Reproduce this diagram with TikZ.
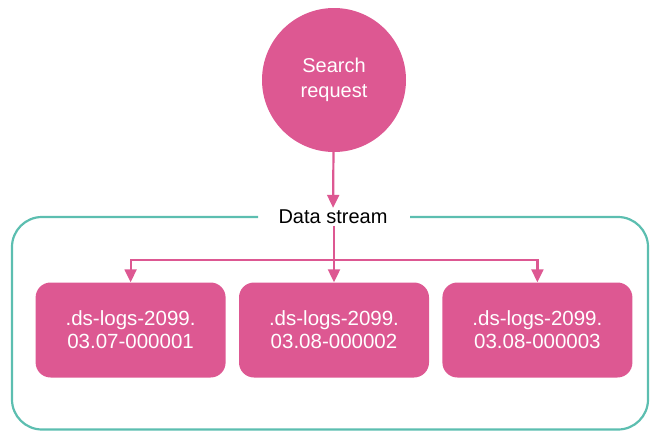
\documentclass[tikz,border=0pt]{standalone}
\usepackage{fontspec}
\setmainfont{Liberation Sans}
\usetikzlibrary{
        arrows.meta,
        positioning
    }
\definecolor{dspink}{RGB}{221,88,146}
\definecolor{dsteal}{RGB}{92,190,176}
\tikzset{>={Triangle[width=12pt,length=13pt]}}
\tikzset{
    req/.style={circle,fill=dspink,draw=none,minimum size=144pt,
        text=white,align=center,font=\fontsize{20}{25}\selectfont},
    backing/.style={rounded corners=15pt,fill=dspink,draw=none,
        minimum width=190pt,minimum height=95pt,inner sep=0pt,
        text=white,align=center,font=\fontsize{20.5}{23}\selectfont},
    link/.style={draw=dspink,line width=2.2pt},
    flow/.style={link,->},
    frame/.style={draw=dsteal,line width=2.2pt,rounded corners=30pt}
}

\begin{document}
\begin{tikzpicture}[x=1pt,y=-1pt]
    \useasboundingbox (0,0) rectangle (650,431);
    \node[req] (search) at (334,80) {Search\\request};
    \node[font=\fontsize{20}{24}\selectfont,inner sep=2pt] (stream) at (333,217) {Data stream};
    \node[backing] (idx2) at (334,330) {.ds-logs-2099.\\03.08-000002};
    \node[backing] (idx1) [left=13pt of idx2] {.ds-logs-2099.\\03.07-000001};
    \node[backing] (idx3) [right=13pt of idx2] {.ds-logs-2099.\\03.08-000003};
    \coordinate (split) at (334,260);
    % the data stream frame, open round its title
    \draw[frame] (258,217) -- (12,217) -- (12,429.5) -- (648,429.5) -- (648,217) -- (410,217);
    \draw[flow] (search) -- (stream);
    \draw[link] (stream.south -| split) -- (split);
    \draw[flow] (split) -| (idx1.north);
    \draw[flow] (split) -- (idx2.north);
    \draw[flow] (split) -| (idx3.north);
\end{tikzpicture}
\end{document}
